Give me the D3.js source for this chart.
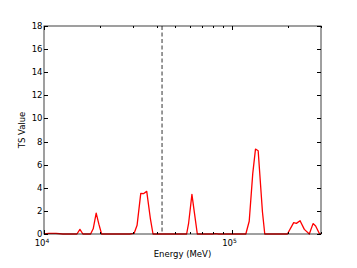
<!DOCTYPE html>
<html>
<head>
<meta charset="utf-8">
<script src="https://cdn.jsdelivr.net/npm/d3@7"></script>
<style>
  body { margin: 0; background: #fff; }
  svg text { font-family: "DejaVu Sans", sans-serif; fill: #000; }
</style>
</head>
<body>
<svg id="chart" width="357" height="268"></svg>
<script>
// energies (MeV) and TS values
const energy = [10000, 10631, 11582, 12619, 14979, 15544, 16124, 17722, 18294, 18980,
  19616, 20276, 28669, 30220, 31356, 32810, 34030, 35305, 36940, 38132,
  57625, 59060, 61490, 63330, 65700, 79230, 82200, 85300, 119200, 124250,
  129800, 134200, 138700, 146200, 150400, 198600, 214500, 221700, 232000, 244500,
  259900, 272100, 280900, 294900, 300000];
const tsValue = [0, 0.06, 0.05, 0, 0, 0.4, 0, 0, 0.45, 1.8,
  0.85, 0, 0, 0.05, 0.75, 3.52, 3.5, 3.69, 1.3, 0,
  0, 0.95, 3.43, 1.9, 0, 0, 0.04, 0, 0, 1.1,
  5.25, 7.35, 7.2, 1.9, 0, 0, 0.98, 0.92, 1.15, 0.4,
  0, 0.9, 0.7, 0, 0];
const markerEnergy = 42600;
const yTicks = [0, 2, 4, 6, 8, 10, 12, 14, 16, 18];
const xMajor = [1e4, 1e5];
const xMinor = [2e4, 3e4, 4e4, 5e4, 6e4, 7e4, 8e4, 9e4, 2e5, 3e5];

const svg = d3.select('#chart');
const L = 44, R = 321, T = 26, B = 234;

const x = d3.scaleLog().domain([1e4, 3e5]).range([L, R]);
const y = d3.scaleLinear().domain([0, 18]).range([B, T]);

// ── red TS curve ──────────────────────────────────────────
const data = energy.map((e, i) => ({ e, v: tsValue[i] }));
svg.append('path')
  .datum(data)
  .attr('fill', 'none')
  .attr('stroke', '#ff0000')
  .attr('stroke-width', 1.3)
  .attr('stroke-linejoin', 'round')
  .attr('d', d3.line().x(d => x(d.e)).y(d => y(d.v)));

// ── dashed marker ─────────────────────────────────────────
svg.append('line')
  .attr('x1', x(markerEnergy)).attr('x2', x(markerEnergy))
  .attr('y1', T).attr('y2', B)
  .attr('stroke', '#333').attr('stroke-width', 1)
  .attr('stroke-dasharray', '4,2.5');

// ── frame and ticks (inward, all four sides) ─────────────
const frame = svg.append('g').attr('stroke', '#000').attr('stroke-width', 1);
frame.append('rect')
  .attr('x', L).attr('y', T).attr('width', R - L).attr('height', B - T)
  .attr('fill', 'none').attr('stroke-opacity', 0.75);

yTicks.forEach(t => {
  const yy = Math.round(y(t)) + 0.5;
  frame.append('line').attr('x1', L).attr('x2', L + 4).attr('y1', yy).attr('y2', yy);
  frame.append('line').attr('x1', R - 4).attr('x2', R).attr('y1', yy).attr('y2', yy);
});
xMajor.forEach(t => {
  const xx = Math.round(x(t)) + 0.5;
  frame.append('line').attr('x1', xx).attr('x2', xx).attr('y1', B).attr('y2', B - 4);
  frame.append('line').attr('x1', xx).attr('x2', xx).attr('y1', T).attr('y2', T + 4);
});
xMinor.forEach(t => {
  const xx = Math.round(x(t)) + 0.5;
  frame.append('line').attr('x1', xx).attr('x2', xx).attr('y1', B).attr('y2', B - 2);
  frame.append('line').attr('x1', xx).attr('x2', xx).attr('y1', T).attr('y2', T + 2);
});

// ── tick labels ───────────────────────────────────────────
svg.append('g').selectAll('text').data(yTicks).join('text')
  .attr('x', L - 1.5).attr('y', d => y(d))
  .attr('dy', '0.35em')
  .attr('text-anchor', 'end')
  .attr('font-size', 8.5)
  .text(d => d);

xMajor.forEach(t => {
  const txt = svg.append('text')
    .attr('x', x(t) - 2).attr('y', B + 12)
    .attr('text-anchor', 'middle')
    .attr('font-size', 8.5);
  txt.append('tspan').text('10');
  txt.append('tspan').attr('dy', -3.5).attr('font-size', 6).text(Math.log10(t));
});

// ── axis titles ───────────────────────────────────────────
svg.append('text')
  .attr('x', (L + R) / 2).attr('y', 257)
  .attr('text-anchor', 'middle')
  .attr('font-size', 8.5)
  .text('Energy (MeV)');

svg.append('text')
  .attr('transform', `translate(25,${(T + B) / 2}) rotate(-90)`)
  .attr('text-anchor', 'middle')
  .attr('font-size', 8.5)
  .text('TS Value');
</script>
</body>
</html>
